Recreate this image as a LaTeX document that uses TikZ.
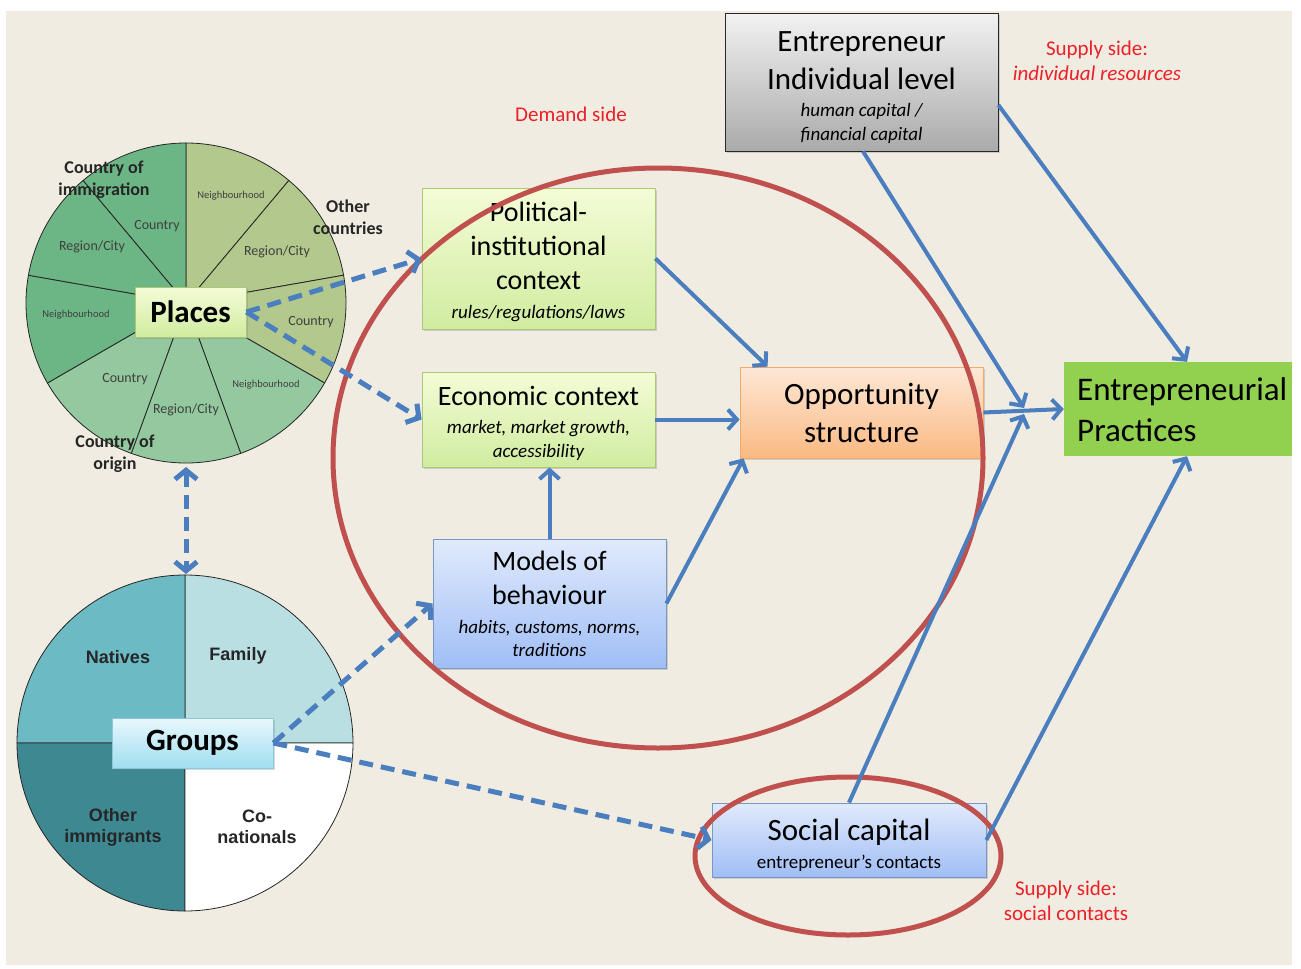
\documentclass[tikz,border=0pt]{standalone}
\usepackage{fontspec}
\setmainfont{Carlito}
\newfontfamily\arialf{Liberation Sans}
\usetikzlibrary{arrows.meta,shadows}
\definecolor{bg}{HTML}{F0ECE2}
\definecolor{olive}{RGB}{178,200,140}
\definecolor{lgreen}{RGB}{148,200,158}
\definecolor{dgreen}{RGB}{108,181,133}
\definecolor{teal1}{RGB}{108,186,196}
\definecolor{teal2}{RGB}{186,223,227}
\definecolor{teal3}{RGB}{62,136,146}
\definecolor{arrblue}{RGB}{74,126,190}
\definecolor{ellred}{RGB}{192,80,77}
\definecolor{txtred}{RGB}{236,32,40}
\definecolor{pgreen}{RGB}{146,208,80}
\newcommand\fz[2]{\fontsize{#1}{#2}\selectfont}
\newcommand\subt[1]{{\fz{19}{23}\itshape #1}}
\begin{document}
\begin{tikzpicture}[x=1pt,y=-1pt,
  boxbase/.style={rectangle, inner sep=0pt, align=center, line width=0.8pt,
     drop shadow={opacity=0.3, shadow xshift=2pt, shadow yshift=-2pt}},
  greenbox/.style={boxbase, draw={rgb,255:red,170;green,200;blue,120}, top color={rgb,255:red,244;green,252;blue,214}, bottom color={rgb,255:red,208;green,236;blue,160}},
  bluebox/.style={boxbase, draw={rgb,255:red,120;green,150;blue,200}, top color={rgb,255:red,224;green,234;blue,252}, bottom color={rgb,255:red,160;green,190;blue,245}},
  orangebox/.style={boxbase, draw={rgb,255:red,240;green,170;blue,110}, top color={rgb,255:red,253;green,232;blue,214}, bottom color={rgb,255:red,250;green,185;blue,130}},
  graybox/.style={boxbase, draw={rgb,255:red,40;green,40;blue,40}, top color={rgb,255:red,242;green,242;blue,242}, bottom color={rgb,255:red,170;green,170;blue,170}},
  cyanbox/.style={boxbase, draw={rgb,255:red,140;green,200;blue,220}, top color={rgb,255:red,232;green,248;blue,252}, bottom color={rgb,255:red,160;green,222;blue,240}},
  slice/.style={draw=black!85, line width=0.8pt},
  small/.style={text=black!75},
  pielab/.style={font=\fz{18}{22}\bfseries, align=center, text=black!85},
  grplab/.style={font=\arialf\fz{18}{21}\bfseries, align=center, text=black!85},
  redtxt/.style={text=txtred, align=center, font=\fz{21}{25}},
  ell/.style={draw=ellred, line width=5pt},
  solidarr/.style={draw=arrblue, line width=4pt, -{Straight Barb[length=9pt,width=20pt]}},
  dasharr/.style={draw=arrblue, line width=5pt, dash pattern=on 14pt off 8pt, -{Straight Barb[length=9pt,width=22pt]}},
  dashdbl/.style={draw=arrblue, line width=5pt, dash pattern=on 14pt off 8pt, {Straight Barb[length=9pt,width=22pt]}-{Straight Barb[length=9pt,width=22pt]}}
]
\useasboundingbox (0,0) rectangle (1301,969);
\fill[bg] (6,11) rectangle (1292,965);

% ---------- Places pie ----------
\coordinate (pc) at (186,303);
\foreach \a/\b/\c in {50/90/olive,10/50/olive,-30/10/olive,-70/-30/lgreen,-110/-70/lgreen,-150/-110/lgreen,170/210/dgreen,130/170/dgreen,90/130/dgreen}
  \filldraw[slice, fill=\c] (pc) -- ++(\a:160pt) arc[start angle=\a, end angle=\b, radius=160pt] -- cycle;
\node[small, font=\fz{10.5}{12}] (pl1) at (231,196) {Neighbourhood};
\node[small, font=\fz{14}{16}] (pl2) at (277,252) {Region/City};
\node[small, font=\fz{14}{16}] (pl3) at (311,322) {Country};
\node[small, font=\fz{10.5}{12}] (pl4) at (266,385) {Neighbourhood};
\node[small, font=\fz{14}{16}] (pl5) at (186,410) {Region/City};
\node[small, font=\fz{14}{16}] (pl6) at (125,379) {Country};
\node[small, font=\fz{10.5}{12}] (pl7) at (76,315) {Neighbourhood};
\node[small, font=\fz{14}{16}] (pl8) at (92,247) {Region/City};
\node[small, font=\fz{14}{16}] (pl9) at (157,226) {Country};
\node[pielab] (cim) at (104,180) {Country of\\immigration};
\node[pielab] (oth) at (348,217) {Other\\countries};
\node[pielab] (cor) at (115,454) {Country of\\origin};
\node[greenbox, minimum width=111pt, minimum height=50pt, font=\fz{31}{36}\bfseries] (places) at (190.5,312) {Places};

% ---------- Groups pie ----------
\coordinate (gc) at (185,743);
\filldraw[slice, fill=teal2] (gc) -- ++(0:168pt) arc[start angle=0, end angle=90, radius=168pt] -- cycle;
\filldraw[slice, fill=teal1] (gc) -- ++(90:168pt) arc[start angle=90, end angle=180, radius=168pt] -- cycle;
\filldraw[slice, fill=teal3] (gc) -- ++(180:168pt) arc[start angle=180, end angle=270, radius=168pt] -- cycle;
\filldraw[slice, fill=white] (gc) -- ++(270:168pt) arc[start angle=270, end angle=360, radius=168pt] -- cycle;
\node[grplab] (nat) at (118,657) {Natives};
\node[grplab] (fam) at (238,656) {Family};
\node[grplab] (oim) at (113,827) {Other\\immigrants};
\node[grplab] (con) at (257,827) {Co-\\nationals};
\node[cyanbox, minimum width=161pt, minimum height=50pt, font=\fz{31}{36}\bfseries] (groups) at (192.5,743) {Groups};

% ---------- Boxes ----------
\node[greenbox, minimum width=233pt, minimum height=141pt, font=\fz{28}{34}] (pol) at (538.5,258.5)
  {\rule{0pt}{26pt}Political-\\institutional\\context\\[-5pt]\subt{rules/regulations/laws}};
\node[greenbox, minimum width=233pt, minimum height=95pt, font=\fz{28}{34}] (eco) at (538.5,419.5)
  {\rule{0pt}{28pt}Economic context\\[-6pt]\subt{market, market growth,}\\[-10pt]\subt{accessibility}};
\node[bluebox, minimum width=233pt, minimum height=129pt, font=\fz{28}{34}] (mod) at (549.5,603.5)
  {Models of\\behaviour\\[-5pt]\subt{habits, customs, norms,}\\[-11pt]\subt{traditions}};
\node[orangebox, minimum width=243pt, minimum height=91pt, font=\fz{31}{38}] (opp) at (861.5,412.5)
  {Opportunity\\structure};
\node[graybox, minimum width=273pt, minimum height=138pt, font=\fz{31}{38}] (ent) at (861.5,82)
  {\rule{0pt}{32pt}Entrepreneur\\Individual level\\[-11pt]\subt{human capital /}\\[-14pt]\subt{financial capital}};
\node[rectangle, fill=pgreen, minimum width=228pt, minimum height=94pt, inner sep=0pt] (prac) at (1178,409) {};
\node[anchor=west, align=left, font=\fz{33}{41}, inner sep=0pt] (practxt) at (1077,410) {Entrepreneurial\\Practices};
\node[bluebox, minimum width=274pt, minimum height=74pt, font=\fz{31}{38}] (soc) at (849,840)
  {\rule{0pt}{33pt}Social capital\\[-10pt]{\fz{19}{22}entrepreneur’s contacts}};

% ---------- Red ellipses ----------
\draw[ell] (658,458) ellipse [x radius=325, y radius=290];
\draw[ell] (848,856) ellipse [x radius=153, y radius=79];

% ---------- Red labels ----------
\node[redtxt] (dem) at (571,114) {Demand side};
\node[redtxt] (sup1) at (1097,61) {Supply side:\\\itshape individual resources};
\node[redtxt] (sup2) at (1066,901) {Supply side:\\social contacts};

% ---------- Connectors ----------
\coordinate (conv) at (1024,410);
\coordinate (pbot) at (186,467);
\coordinate (gtop) at (186,574);
\draw[dasharr] (places.east) -- (pol.west);
\draw[dasharr] (places.east) -- (eco.west);
\draw[dashdbl] (pbot) -- (gtop);
\draw[dasharr] (groups.east) -- (mod.west);
\draw[dasharr] (groups.east) -- (soc.west);
\draw[solidarr] (pol.east) -- ([xshift=28pt]opp.north west);
\draw[solidarr] (eco.east) -- (opp.west |- eco.east);
\draw[solidarr] (mod.north) -- (mod.north |- eco.south);
\draw[solidarr] (mod.east) -- ([xshift=4pt]opp.south west);
\draw[solidarr] (opp.east) -- (prac.west);
\draw[solidarr] ([xshift=1.5pt]ent.south) -- ([yshift=2pt]conv);
\draw[solidarr] ([yshift=-23pt]ent.east) -- ([xshift=9pt]prac.north);
\draw[solidarr] (soc.north) -- ([yshift=-4pt]conv);
\draw[solidarr] (soc.east) -- ([xshift=9pt]prac.south);
\end{tikzpicture}
\end{document}
